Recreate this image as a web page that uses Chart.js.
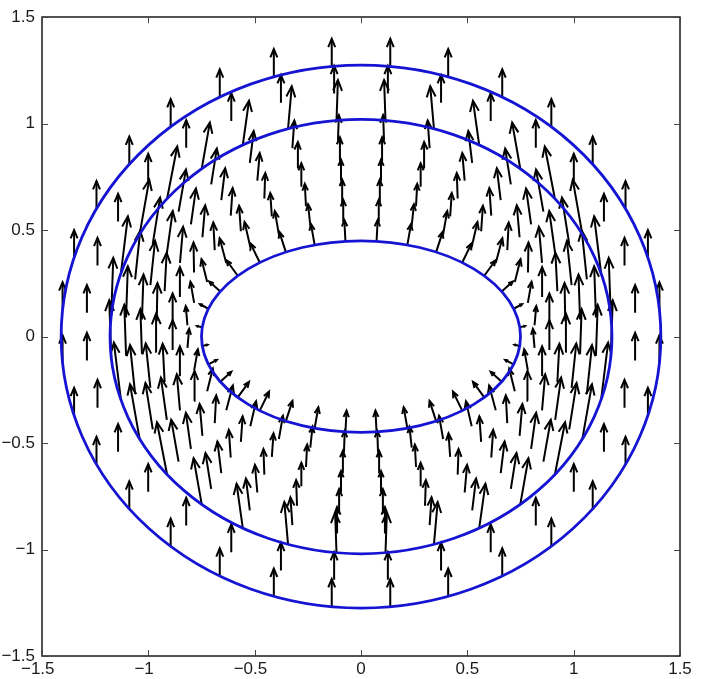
<!DOCTYPE html>
<html>
<head>
<meta charset="utf-8">
<script src="https://cdn.jsdelivr.net/npm/chart.js@4.4.1/dist/chart.umd.min.js"></script>
<style>
  html, body { margin: 0; padding: 0; background: #fff; }
  #wrap { width: 701px; height: 679px; }
</style>
</head>
<body>
<div id="wrap"><canvas id="quiverChart" width="701" height="679"></canvas></div>
<script>
// axis ticks
const tickValues = [-1.5, -1, -0.5, 0, 0.5, 1, 1.5];

// boundary ellipses: inner, middle, outer (semi-axes)
const ellipseA = [0.75, 1.18, 1.41];
const ellipseB = [0.45, 1.02, 1.275];

// quiver mesh (other quadrants are mirror images)
const nodeAngles = [95.6, 106.9, 118.1, 129.4, 140.6, 151.9, 163.1, 174.4];
const levelA = [0.75, 0.82, 0.89, 0.965, 1.035, 1.11, 1.18, 1.295, 1.41];
const levelB = [0.45, 0.545, 0.64, 0.735, 0.83, 0.925, 1.02, 1.1475, 1.275];

// arrow direction in degrees (90 = straight up), one row per mesh level
const arrowDir = [
    [93, 100, 108, 116, 126, 138, 152, 168],
    [92, 96, 100, 103, 105, 104, 100, 95],
    [91, 93, 94, 94, 93, 91, 90, 90],
    [90, 90, 88, 86, 85, 85, 87, 89],
    [89, 88, 85, 83, 82, 82, 84, 88],
    [88, 86, 83, 81, 80, 81, 84, 88],
    [88, 85, 82, 80, 79, 80, 83, 88],
    [90, 90, 90, 90, 90, 90, 90, 90],
    [90, 90, 90, 90, 90, 90, 90, 90]
];

// arrow length in axis units
const arrowLen = [
    [0.10, 0.10, 0.10, 0.10, 0.09, 0.07, 0.045, 0.025],
    [0.10, 0.10, 0.11, 0.12, 0.12, 0.11, 0.10, 0.09],
    [0.10, 0.105, 0.11, 0.12, 0.13, 0.14, 0.14, 0.14],
    [0.10, 0.11, 0.12, 0.13, 0.15, 0.17, 0.18, 0.18],
    [0.11, 0.12, 0.13, 0.15, 0.17, 0.20, 0.21, 0.21],
    [0.12, 0.13, 0.15, 0.17, 0.20, 0.22, 0.23, 0.24],
    [0.19, 0.20, 0.21, 0.22, 0.25, 0.26, 0.27, 0.27],
    [0.13, 0.13, 0.13, 0.13, 0.13, 0.13, 0.13, 0.13],
    [0.13, 0.13, 0.13, 0.13, 0.13, 0.13, 0.13, 0.13]
];

const GAP = { x: NaN, y: NaN };
const deg = Math.PI / 180;

// shafts and heads as NaN-separated polylines, like matlab quiver
function buildQuiver() {
    const shafts = [];
    const heads = [];
    const mirrors = [[1, 1], [-1, 1], [1, -1], [-1, -1]];

    mirrors.forEach(([sx, sy]) => {
        levelA.forEach((a, i) => {
            const b = levelB[i];
            nodeAngles.forEach((t, j) => {
                const x = sx * a * Math.cos(t * deg);
                const y = sy * b * Math.sin(t * deg);
                const len = arrowLen[i][j];
                const u = sx * sy * len * Math.cos(arrowDir[i][j] * deg);
                const v = len * Math.sin(arrowDir[i][j] * deg);
                const tx = x + u, ty = y + v;

                shafts.push({ x, y }, { x: tx, y: ty }, GAP);

                const dx = u / len, dy = v / len;
                const h = Math.min(0.3 * len, 0.05);
                const w = 0.42 * h;
                heads.push(
                    { x: tx - h * dx - w * dy, y: ty - h * dy + w * dx },
                    { x: tx, y: ty },
                    { x: tx - h * dx + w * dy, y: ty - h * dy - w * dx },
                    GAP
                );
            });
        });
    });
    return { shafts, heads };
}

const ellipsePlugin = {
    id: 'ellipses',
    afterDatasetsDraw(chart) {
        const ctx = chart.ctx;
        const xs = chart.scales.x, ys = chart.scales.y;
        const cx = xs.getPixelForValue(0), cy = ys.getPixelForValue(0);
        ctx.save();
        ctx.strokeStyle = '#1414d2';
        ctx.lineWidth = 2.8;
        ellipseA.forEach((a, i) => {
            const rx = xs.getPixelForValue(a) - cx;
            const ry = cy - ys.getPixelForValue(ellipseB[i]);
            ctx.beginPath();
            ctx.ellipse(cx, cy, rx, ry, 0, 0, 2 * Math.PI);
            ctx.stroke();
        });
        ctx.restore();
    }
};

// box round the axes with inward ticks on all four sides
const framePlugin = {
    id: 'frame',
    afterDraw(chart) {
        const ctx = chart.ctx;
        const area = chart.chartArea;
        const xs = chart.scales.x, ys = chart.scales.y;
        const tick = 6;
        ctx.save();
        ctx.strokeStyle = '#1a1a1a';
        ctx.lineWidth = 1.5;
        ctx.strokeRect(Math.round(area.left), Math.round(area.top),
            Math.round(area.right - area.left), Math.round(area.bottom - area.top));
        ctx.lineWidth = 1;
        ctx.strokeStyle = '#444';
        ctx.beginPath();
        tickValues.forEach(v => {
            const px = Math.round(xs.getPixelForValue(v)) + 0.5;
            ctx.moveTo(px, area.bottom); ctx.lineTo(px, area.bottom - tick);
            ctx.moveTo(px, area.top); ctx.lineTo(px, area.top + tick);
            const py = Math.round(ys.getPixelForValue(v)) + 0.5;
            ctx.moveTo(area.left, py); ctx.lineTo(area.left + tick, py);
            ctx.moveTo(area.right, py); ctx.lineTo(area.right - tick, py);
        });
        ctx.stroke();
        ctx.restore();
    }
};

const quiver = buildQuiver();
const labelFont = { family: '"Liberation Sans", Arial, sans-serif', size: 17 };

function fmt(value) {
    return value < 0 ? '\u2212' + String(-value) : String(value);
}

function axisOptions(padding, callback) {
    return {
        type: 'linear',
        min: -1.5,
        max: 1.5,
        afterBuildTicks: scale => { scale.ticks = tickValues.map(value => ({ value })); },
        grid: { display: false, drawTicks: false },
        border: { display: false },
        ticks: {
            color: '#1a1a1a',
            font: labelFont,
            padding: padding,
            autoSkip: false,
            maxRotation: 0,
            callback: callback
        }
    };
}

// matlab keeps the digits centred under the tick, the minus hangs to the left
const xAxis = axisOptions(3, v => v < 0 ? fmt(v) + '\u2002' : fmt(v));
xAxis.afterFit = scale => { scale.height = 23; };
const yAxis = axisOptions(7, fmt);
yAxis.afterFit = scale => { scale.width = 42; };

new Chart(document.getElementById('quiverChart'), {
    type: 'scatter',
    data: {
        datasets: [
            {
                label: 'shafts',
                data: quiver.shafts,
                showLine: true,
                spanGaps: false,
                borderColor: '#000',
                borderWidth: 2,
                pointRadius: 0
            },
            {
                label: 'heads',
                data: quiver.heads,
                showLine: true,
                spanGaps: false,
                borderColor: '#000',
                borderWidth: 2,
                pointRadius: 0
            }
        ]
    },
    options: {
        responsive: false,
        animation: false,
        devicePixelRatio: 1,
        events: [],
        layout: { padding: { left: 0, top: 16, right: 21, bottom: 0 } },
        plugins: {
            legend: { display: false },
            tooltip: { enabled: false }
        },
        scales: { x: xAxis, y: yAxis }
    },
    plugins: [ellipsePlugin, framePlugin]
});
</script>
</body>
</html>
